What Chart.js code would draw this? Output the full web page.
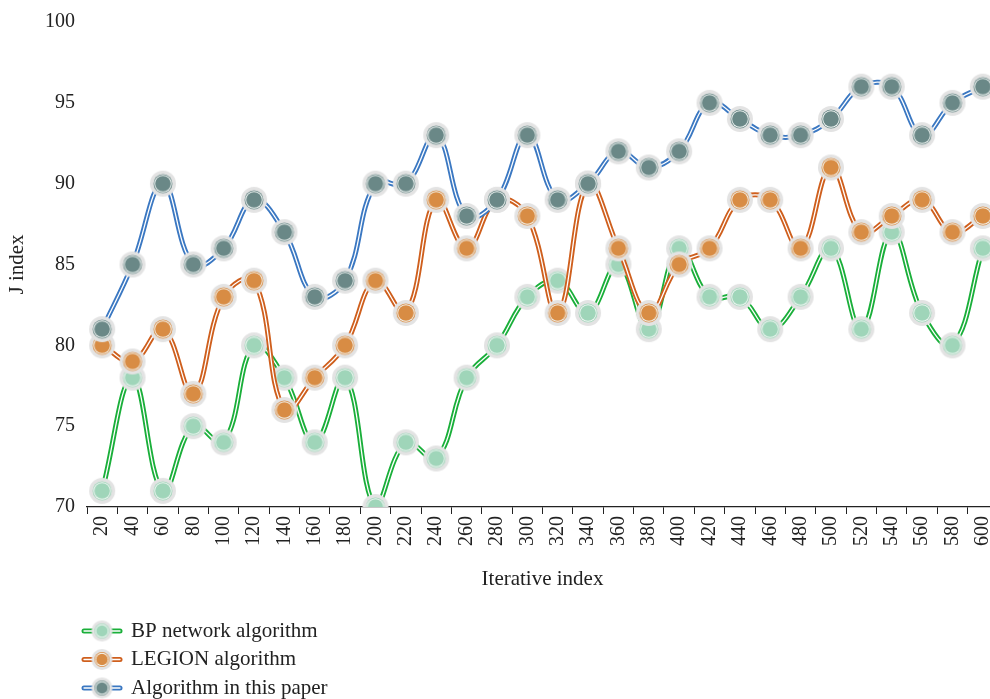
<!DOCTYPE html>
<html>
<head>
<meta charset="utf-8">
<script src="https://cdn.jsdelivr.net/npm/chart.js@4/dist/chart.umd.min.js"></script>
<style>
  html, body { margin: 0; padding: 0; background: #fff; overflow: hidden; }
  #wrap { width: 990px; height: 699px; overflow: hidden; position: relative; }
</style>
</head>
<body>
<div id="wrap"><canvas id="chart" width="1012" height="699"></canvas></div>
<script>
const ITERATIONS = ["20","40","60","80","100","120","140","160","180","200","220","240","260","280","300",
    "320","340","360","380","400","420","440","460","480","500","520","540","560","580","600"];

const BP_VALUES = [71, 78, 71, 75, 74, 80, 78, 74, 78, 70, 74, 73, 78, 80, 83,
    84, 82, 85, 81, 86, 83, 83, 81, 83, 86, 81, 87, 82, 80, 86];
const LEGION_VALUES = [80, 79, 81, 77, 83, 84, 76, 78, 80, 84, 82, 89, 86, 89, 88,
    82, 90, 86, 82, 85, 86, 89, 89, 86, 91, 87, 88, 89, 87, 88];
const PAPER_VALUES = [81, 85, 90, 85, 86, 89, 87, 83, 84, 90, 90, 93, 88, 89, 93,
    89, 90, 92, 91, 92, 95, 94, 93, 93, 94, 96, 96, 93, 95, 96];

const Y_TICKS = [70, 75, 80, 85, 90, 95, 100];

const SERIES = [
    { name: "BP network algorithm", data: BP_VALUES, line: "#1aaf3a", fill: "#9fd5b9" },
    { name: "LEGION algorithm", data: LEGION_VALUES, line: "#cf5f1d", fill: "#d88c44" },
    { name: "Algorithm in this paper", data: PAPER_VALUES, line: "#3b78c2", fill: "#6a8887" }
];

const FONT = "'Liberation Serif', 'DejaVu Serif', serif";
const TEXT = "#222";

// marker: grey halo, thin coloured ring, white ring, filled centre
function makeMarker(fill, outer, inner) {
    const size = Math.ceil(outer * 2) + 2;
    const c = document.createElement('canvas');
    c.width = size; c.height = size;
    const g = c.getContext('2d');
    const m = size / 2;
    const disc = (r, col) => { g.beginPath(); g.arc(m, m, r, 0, Math.PI * 2); g.fillStyle = col; g.fill(); };
    disc(outer, '#e3e3e3');
    disc(inner + 1.7, fill);
    disc(inner + 0.9, '#f4f8f6');
    disc(inner, fill);
    return c;
}

SERIES.forEach(s => {
    s.marker = makeMarker(s.fill, 13, 7.8);
    s.legendMarker = makeMarker(s.fill, 10.5, 5.8);
});

// three layers per series: coloured band, white stripe, markers
const datasets = [];
SERIES.forEach((s, i) => {
    const base = (2 - i) * 3;
    datasets.push({
        label: s.name, data: s.data, borderColor: s.line, borderWidth: 5,
        tension: 0.4, pointRadius: 0, order: base + 2
    });
    datasets.push({
        label: s.name + " stripe", data: s.data, borderColor: "#ffffff", borderWidth: 1.3,
        tension: 0.4, pointRadius: 0, order: base + 1
    });
    datasets.push({
        label: s.name + " points", data: s.data, showLine: false,
        pointStyle: s.marker, pointRadius: 13, order: base
    });
});

const legendPlugin = {
    id: 'stackedLegend',
    afterDraw(chart) {
        const ctx = chart.ctx;
        ctx.save();
        SERIES.forEach((s, i) => {
            const y = 631 + i * 28.5;
            ctx.lineCap = 'round';
            [[84, 95], [109, 120]].forEach(([a, b]) => {
                ctx.beginPath(); ctx.moveTo(a, y); ctx.lineTo(b, y);
                ctx.strokeStyle = s.line; ctx.lineWidth = 5; ctx.stroke();
                ctx.beginPath(); ctx.moveTo(a, y); ctx.lineTo(b, y);
                ctx.strokeStyle = '#fff'; ctx.lineWidth = 1.3; ctx.stroke();
            });
            const m = s.legendMarker;
            ctx.drawImage(m, 102 - m.width / 2, y - m.height / 2);
            ctx.fillStyle = TEXT;
            ctx.font = "21px " + FONT;
            ctx.textBaseline = 'middle';
            ctx.fillText(s.name, 131, y);
        });
        ctx.restore();
    }
};

new Chart(document.getElementById('chart'), {
    type: 'line',
    data: { labels: ITERATIONS, datasets: datasets },
    options: {
        responsive: false,
        animation: false,
        devicePixelRatio: 1,
        layout: { padding: { top: 22, right: 0, bottom: 104, left: 0 } },
        plugins: { legend: { display: false }, tooltip: { enabled: false } },
        scales: {
            x: {
                offset: true,
                afterFit: s => { s.height = 88; },
                grid: { display: true, drawOnChartArea: false, drawTicks: true, tickLength: 7, color: TEXT, offset: true },
                border: { display: true, color: TEXT, width: 1.3 },
                ticks: { color: TEXT, font: { family: FONT, size: 20 }, minRotation: 90, maxRotation: 90, padding: 2, autoSkip: false },
                title: { display: true, text: "Iterative index", color: TEXT, font: { family: FONT, size: 21 }, padding: { top: 0, bottom: 3 } }
            },
            y: {
                min: 70, max: 100,
                afterFit: s => { s.width = 87; },
                afterBuildTicks: s => { s.ticks = Y_TICKS.map(v => ({ value: v })); },
                grid: { display: false },
                border: { display: false },
                ticks: { color: TEXT, font: { family: FONT, size: 20 }, padding: 4 },
                title: { display: true, text: "J index", color: TEXT, font: { family: FONT, size: 21 }, padding: { top: 5, bottom: 0 } }
            }
        }
    },
    plugins: [legendPlugin]
});
</script>
</body>
</html>
